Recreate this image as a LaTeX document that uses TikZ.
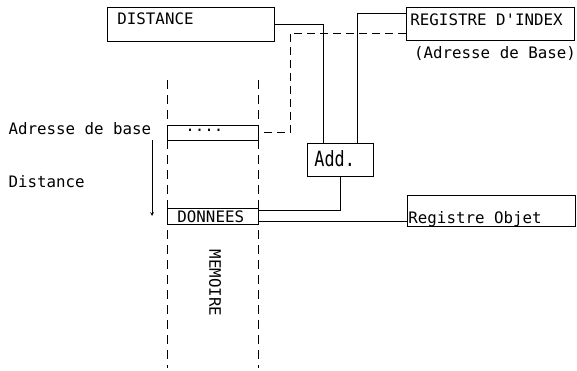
\documentclass[tikz,border=0pt]{standalone}
\usepackage{fontspec}
\newfontfamily\mono{DejaVu Sans Mono}
\newfontfamily\monolarge{DejaVu Sans Mono}[FakeStretch=0.8]
\newcommand\gauche[2]{\makebox[#1][l]{#2}}
\tikzset{
  boite/.style={draw,line width=0.9pt,anchor=base west,inner ysep=0pt},
  lien/.style={line width=0.7pt},
  tirets/.style={line width=0.7pt,dash pattern=on 8pt off 5pt},
  memoire/.style={line width=0.8pt,dash pattern=on 9pt off 6pt},
  fleche/.style={line width=0.7pt,-stealth}
}
\begin{document}
\begin{tikzpicture}[x=1pt,y=-1pt,every node/.style={font=\mono\fontsize{15.8}{18}\selectfont}]
  \useasboundingbox (0,0) rectangle (577,371);
  % memoire
  \foreach \x in {167,258} \draw[memoire] (\x,80) -- (\x,368);
  \node[rotate=-90] (mem) at (215,283) {MEMOIRE};
  % boites
  \node[boite,inner xsep=10pt,text height=18pt,text depth=16pt] (distance) at (107,25) {\gauche{147pt}{DISTANCE}};
  \node[boite,inner xsep=4pt,text height=19pt,text depth=14pt] (index) at (406,26) {\gauche{160pt}{REGISTRE D'INDEX}};
  \node[anchor=base] (base) at (495,59) {(Adresse de Base)};
  \node[boite,fill=white,inner xsep=18pt,text height=7pt,text depth=8pt] (dots) at (167,132) {\gauche{55pt}{....}};
  \node[boite,fill=white,inner xsep=10pt,text height=14pt,text depth=2pt] (donnees) at (167,222) {\gauche{71pt}{DONNEES}};
  \node[boite,inner xsep=7pt,text height=24pt,text depth=9pt,font=\monolarge\fontsize{21}{22}\selectfont] (add) at (307,167) {\gauche{52pt}{Add.}};
  \node[boite,inner xsep=1pt,text height=28pt,text depth=3pt] (objet) at (407,223) {\gauche{166pt}{Registre Objet}};
  % etiquettes
  \node[anchor=base west] (lbase) at (5,135) {Adresse de base};
  \node[anchor=base west] (ldist) at (5,187) {Distance};
  % liens
  \draw[lien] (distance.east) -| ([xshift=-17pt]add.north);
  \draw[lien] ([yshift=10.5pt]index.west) -| ([xshift=17pt]add.north);
  \draw[tirets] ([yshift=-9.5pt]index.west) -| ([xshift=31pt]dots.east) -- (dots.east);
  \draw[lien] (add.south) |- ([yshift=6pt]donnees.east);
  \coordinate (sortie) at ([yshift=-5pt]donnees.east);
  \draw[lien] (sortie) -- (sortie -| objet.west);
  \draw[fleche] ([xshift=-15pt]dots.south west) -- ([xshift=-15pt]donnees.west);
\end{tikzpicture}
\end{document}
